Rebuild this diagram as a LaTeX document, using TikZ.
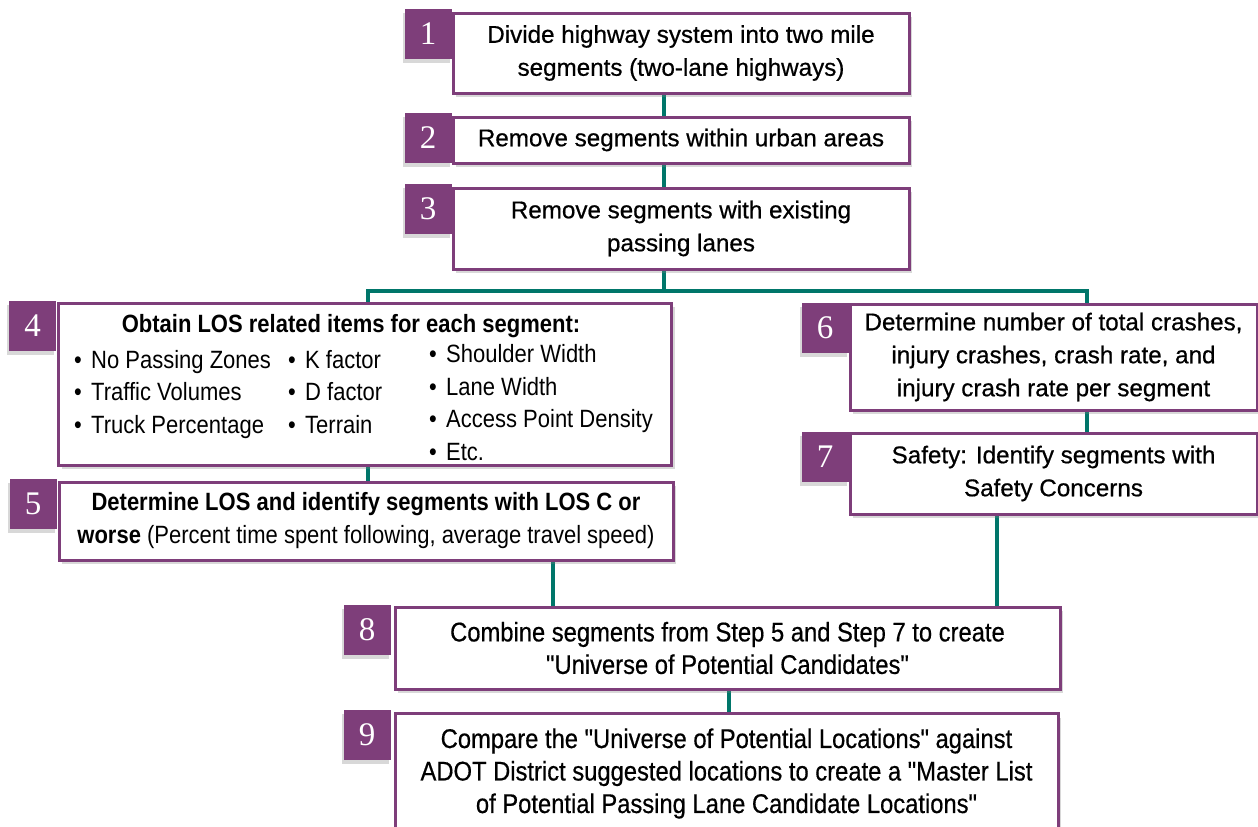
\documentclass[tikz,border=0pt]{standalone}
\usepackage{fontspec}
\setmainfont{Liberation Sans}
\newfontfamily\mediumfont[FakeBold=0.6]{Liberation Sans}
\newfontfamily\narrowfont[FakeStretch=0.88]{Liberation Sans}
\newfontfamily\narrowmedium[FakeStretch=0.88, FakeBold=0.5]{Liberation Sans}
\newfontfamily\numfont{Liberation Serif}
\usetikzlibrary{positioning,calc,shadows,backgrounds}

\definecolor{stepPurple}{RGB}{126,62,122}
\definecolor{linkTeal}{RGB}{0,118,106}

\tikzset{
  stepbox/.style={draw=stepPurple, line width=3pt, fill=white, inner sep=0pt, align=center,
    drop shadow={shadow xshift=3pt, shadow yshift=-4pt, opacity=0.3, fill=gray}},
  numtab/.style={fill=stepPurple, minimum width=47pt, minimum height=50pt, inner sep=0pt,
    text=white, font=\numfont\fontsize{33}{33}\selectfont, anchor=north west,
    drop shadow={shadow xshift=-2pt, shadow yshift=-4pt, opacity=0.3, fill=gray}},
  link/.style={draw=linkTeal, line width=4pt},
  plaintext/.style={font=\mediumfont\fontsize{24.2}{33}\selectfont},
  narrowtext/.style={font=\narrowmedium\fontsize{27}{32.5}\selectfont},
  itemlist/.style={inner sep=0pt, anchor=base west, align=left, font=\narrowfont\fontsize{25}{32.5}\selectfont},
}
\newcommand{\itm}{\makebox[17pt][l]{\textbullet}}

\begin{document}
\begin{tikzpicture}[x=1pt, y=-1pt]
\useasboundingbox (0,0) rectangle (1258,827);
\clip (0,0) rectangle (1258,827);

% steps
\node[stepbox, plaintext, minimum width=456pt, minimum height=80pt] (s1) at (681,53)
  {Divide highway system into two mile\\segments (two-lane highways)};
\node[stepbox, plaintext, minimum width=456pt, minimum height=46pt] (s2) at (681,140)
  {Remove segments within urban areas};
\node[stepbox, plaintext, minimum width=456pt, minimum height=81pt] (s3) at (681,228.5)
  {Remove segments with existing\\passing lanes};
\node[stepbox, minimum width=613pt, minimum height=162pt] (s4) at (365,384) {};
\node[stepbox, font=\narrowfont\fontsize{25}{33}\selectfont, minimum width=614pt, minimum height=78pt] (s5) at (366,521)
  {\bfseries Determine LOS and identify segments with LOS C or\\
   {\bfseries worse} (Percent time spent following, average travel speed)};
\node[stepbox, plaintext, minimum width=407pt, minimum height=106pt] (s6) at (1053.5,357)
  {Determine number of total crashes,\\injury crashes, crash rate, and\\injury crash rate per segment};
\node[stepbox, plaintext, minimum width=407pt, minimum height=81pt] (s7) at (1053.5,473.5)
  {Safety: Identify segments with\\Safety Concerns};
\node[stepbox, narrowtext, minimum width=665pt, minimum height=82pt] (s8) at (727.5,648)
  {Combine segments from Step 5 and Step 7 to create\\"Universe of Potential Candidates"};
\node[stepbox, narrowtext, minimum width=663pt, minimum height=120pt, anchor=north] (s9) at (726.5,712)
  {Compare the "Universe of Potential Locations" against\\
   ADOT District suggested locations to create a "Master List\\
   of Potential Passing Lane Candidate Locations"};

% step 4 contents
\node[inner sep=0pt, anchor=base, font=\narrowfont\bfseries\fontsize{25}{30}\selectfont] (h4) at (351,332)
  {Obtain LOS related items for each segment:};
\node[itemlist] (l4a) at (74,433) {\itm No Passing Zones\\\itm Traffic Volumes\\\itm Truck Percentage};
\node[itemlist] (l4b) at (288,433) {\itm K factor\\\itm D factor\\\itm Terrain};
\node[itemlist] (l4c) at (429,460) {\itm Shoulder Width\\\itm Lane Width\\\itm Access Point Density\\\itm Etc.};

\begin{scope}[on background layer]
  \fill[white] (0,0) rectangle (1258,827);
  % connectors
  \coordinate (trunk) at (664,291);
  \coordinate (leftx) at (368,0);
  \coordinate (rightx) at (1087,0);
  \draw[link] (s1.south -| trunk) -- (s2.north -| trunk);
  \draw[link] (s2.south -| trunk) -- (s3.north -| trunk);
  \draw[link] (s3.south -| trunk) -- (trunk);
  \draw[link] (s4.north -| leftx) |- (trunk) -| (s6.north -| rightx);
  \draw[link] (s4.south -| leftx) -- (s5.north -| leftx);
  \draw[link] (s6.south -| rightx) -- (s7.north -| rightx);
  \draw[link] (s5.south -| 553,0) -- (s8.north -| 553,0);
  \draw[link] (s7.south -| 997,0) -- (s8.north -| 997,0);
  \draw[link] (s8.south -| 729,0) -- (s9.north -| 729,0);
  % number tabs
  \node[numtab] (t1) at ($(s1.north west)+(-47,-3)$) {1};
  \node[numtab] (t2) at ($(s2.north west)+(-47,-3)$) {2};
  \node[numtab] (t3) at ($(s3.north west)+(-47,-3)$) {3};
  \node[numtab] (t4) at ($(s4.north west)+(-48,-1)$) {4};
  \node[numtab] (t5) at ($(s5.north west)+(-48,-2)$) {5};
  \node[numtab] (t6) at ($(s6.north west)+(-47,0)$) {6};
  \node[numtab] (t7) at ($(s7.north west)+(-47,0)$) {7};
  \node[numtab] (t8) at ($(s8.north west)+(-50,-1)$) {8};
  \node[numtab] (t9) at ($(s9.north west)+(-50,-2)$) {9};
\end{scope}
\end{tikzpicture}
\end{document}
